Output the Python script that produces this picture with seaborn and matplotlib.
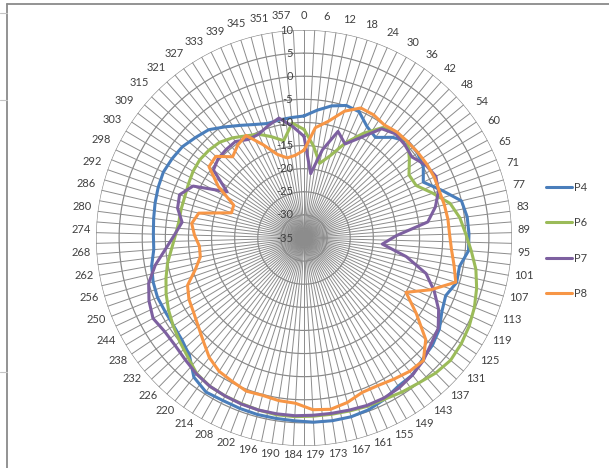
import numpy as np
import pandas as pd
import matplotlib
matplotlib.use("Agg")
import matplotlib.pyplot as plt
from matplotlib.lines import Line2D
import seaborn as sns

# ---------------- data ----------------
angle_labels = [0, 6, 12, 18, 24, 30, 36, 42, 48, 54, 60, 65, 71, 77, 83, 89, 95, 101,
                107, 113, 119, 125, 131, 137, 143, 149, 155, 161, 167, 173, 179, 184,
                190, 196, 202, 208, 214, 220, 226, 232, 238, 244, 250, 256, 262, 268,
                274, 280, 286, 292, 298, 303, 309, 315, 321, 327, 333, 339, 345, 351, 357]

p4 = [-8.6, -7.2, -5.8, -4.9, -5.2, -7.3, -8.3, -6.0, -4.3, -4.3,
      -4.9, -6.5, -3.5, 0.0, 0.6, 0.7, 0.7, -0.8, -0.6, -1.9,
      -1.2, 0.3, 1.2, 1.7, 2.8, 3.0, 4.0, 4.7, 5.0, 5.0,
      4.9, 4.6, 4.5, 4.5, 4.4, 4.3, 4.5, 3.4, 0.5, -0.6,
      -1.0, -1.0, -0.8, -1.0, -1.5, -2.4, -2.4, -2.2, -1.9, -1.6,
      -1.4, -1.7, -2.1, -3.0, -3.8, -5.5, -7.0, -8.2, -9.0, -8.9,
      -8.8]

p6 = [-11.5, -15.0, -18.5, -16.3, -12.5, -9.0, -5.7, -4.7, -4.4, -6.5,
      -8.5, -8.2, -5.5, -2.5, -1.0, 0.0, 1.3, 2.8, 3.9, 4.8,
      5.5, 6.0, 6.3, 5.8, 5.0, 4.5, 4.0, 3.9, 3.7, 3.6,
      3.6, 3.7, 3.7, 3.5, 3.3, 3.2, 3.0, 2.4, 1.0, 0.0,
      -0.9, -1.8, -2.8, -3.9, -5.0, -6.3, -7.2, -7.7, -7.7, -7.7,
      -7.4, -7.0, -6.8, -7.0, -7.4, -8.4, -9.6, -10.5, -12.0, -13.5,
      -10.0]

p7 = [-13.0, -21.0, -15.5, -10.8, -12.8, -10.0, -6.0, -5.0, -5.3, -5.8,
      -4.3, -3.5, -4.2, -5.8, -8.0, -15.0, -18.0, -12.5, -7.5, -4.6,
      -2.0, 0.0, 0.8, 2.0, 2.8, 3.4, 3.7, 3.7, 3.5, 3.4,
      3.4, 3.5, 3.5, 3.5, 3.4, 3.2, 3.0, 2.5, 1.8, 1.3,
      1.3, 2.0, 1.2, 0.0, -2.3, -5.0, -7.0, -8.4, -6.9, -6.5,
      -8.5, -15.6, -10.5, -9.7, -9.5, -9.4, -10.5, -10.5, -9.5, -8.5,
      -10.7]

p8 = [-16.0, -11.0, -9.2, -6.2, -4.3, -4.4, -5.0, -4.5, -4.4, -4.2,
      -4.0, -3.9, -4.0, -3.8, -3.6, -3.5, -3.0, -2.0, -0.8, -5.3,
      -10.0, -5.7, -0.7, 2.0, 1.8, 1.2, 0.7, 0.7, 1.8, 2.5,
      2.2, 0.8, 0.6, 0.2, 0.4, -0.3, -0.8, -2.0, -3.8, -5.2,
      -6.2, -6.8, -7.8, -10.5, -12.2, -12.3, -11.3, -10.5, -11.6, -18.4,
      -18.2, -13.4, -9.3, -9.0, -11.6, -10.3, -9.5, -13.0, -16.0, -17.3,
      -17.0]

series_names = ["P4", "P6", "P7", "P8"]
series_values = [p4, p6, p7, p8]
colors = ["#4A7EBB", "#9BBB59", "#7D60A0", "#F79646"]

r_min, r_max, r_step = -35, 10, 5
n_spokes = 122

# ---------------- style ----------------
sns.set_theme(style="white")
plt.rcParams["font.family"] = ["Lato", "DejaVu Sans"]
text_color = "#404040"
fs = 8

W, H = 609, 468
cx, cy, R = 304, 238, 208
fig = plt.figure(figsize=(W / 100, H / 100), dpi=100)
fig.patch.set_facecolor("white")

ax = fig.add_axes([(cx - R) / W, (H - cy - R) / H, 2 * R / W, 2 * R / H],
                  projection="polar")
ax.set_theta_zero_location("N")
ax.set_theta_direction(-1)
ax.set_ylim(r_min, r_max)
ax.grid(False)
ax.set_xticks([])
ax.set_yticks([])
ax.spines["polar"].set_visible(False)
ax.patch.set_alpha(0)

# grid: rings and spokes
tf = np.linspace(0, 2 * np.pi, 500)
for v in range(r_min + r_step, r_max + 1, r_step):
    ax.plot(tf, np.full_like(tf, v), color="#888888", lw=0.85, zorder=1)
for k in range(n_spokes):
    t = 2 * np.pi * k / n_spokes
    ax.plot([t, t], [r_min, r_max], color="#8c8c8c", lw=0.7, zorder=1)

# data lines
n = len(angle_labels)
theta = np.arange(n) * 2 * np.pi / n
frames = []
for name, vals in zip(series_names, series_values):
    th = np.append(theta, 2 * np.pi)
    vv = np.append(vals, vals[0])
    frames.append(pd.DataFrame({"theta": th, "value": vv, "series": name}))
df = pd.concat(frames, ignore_index=True)
sns.lineplot(data=df, x="theta", y="value", hue="series",
             palette=dict(zip(series_names, colors)), sort=False,
             estimator=None, lw=2.2, legend=False, ax=ax, zorder=3)
ax.set_xlabel("")
ax.set_ylabel("")
ax.set_ylim(r_min, r_max)

# category labels
px2pt = 72 / 100
for i, lab in enumerate(angle_labels):
    t = theta[i]
    s, c = np.sin(t), np.cos(t)
    w = 5.3 * len(str(lab))
    h = 9
    ext = abs(s) * w / 2 + abs(c) * h / 2
    d = 7 + ext
    dx = d * s
    dy = d * c + 3
    ax.annotate(str(lab), xy=(t, r_max), xytext=(dx * px2pt, dy * px2pt),
                textcoords="offset points", ha="center", va="center",
                fontsize=fs, color=text_color, annotation_clip=False)

# radial labels
for v in range(r_min, r_max + 1, r_step):
    ax.annotate(str(v), xy=(0, v), xytext=(-11 * px2pt, 0),
                textcoords="offset points", ha="right", va="center",
                fontsize=fs, color=text_color, annotation_clip=False, zorder=4)

# legend
handles = [Line2D([], [], color=c, lw=2.2) for c in colors]
fig.legend(handles, series_names, loc="center left",
           bbox_to_anchor=(546 / W, 1 - 240.5 / H), frameon=False,
           fontsize=fs, handlelength=2.3, handletextpad=0.2,
           labelspacing=2.2, borderpad=0, borderaxespad=0,
           labelcolor=text_color)

# surrounding sheet borders
def fline(x0, y0, x1, y1, color, lw):
    fig.add_artist(Line2D([x0 / W, x1 / W], [1 - y0 / H, 1 - y1 / H],
                          transform=fig.transFigure, color=color, lw=lw))

fline(7, 4, W, 4, "#8a8a8a", 1.3)
fline(7, 4, 7, H, "#8a8a8a", 1.3)
for yy in (12.7, 100, 372):
    fline(0, yy, 7, yy, "#c4c4c4", 0.8)

fig.savefig("out.png", dpi=100)
